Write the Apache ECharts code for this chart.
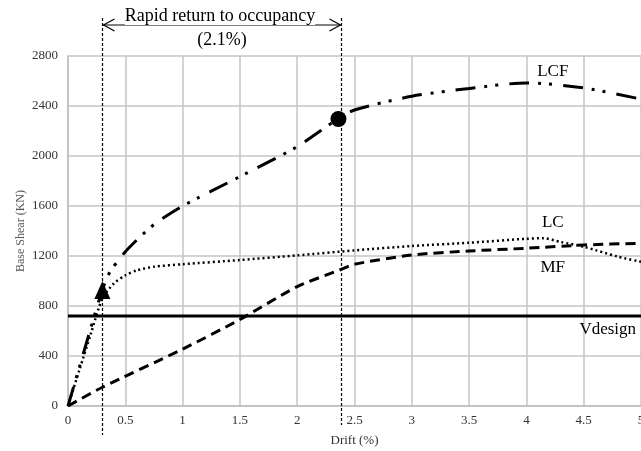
<!DOCTYPE html>
<html>
<head>
<meta charset="utf-8">
<script src="https://cdn.jsdelivr.net/npm/echarts@6/dist/echarts.min.js"></script>
<style>
  html, body { margin: 0; padding: 0; background: #fff; }
  #chart { width: 641px; height: 451px; }
</style>
</head>
<body>
<div id="chart"></div>
<script>
const SERIF = "'Liberation Serif', 'Times New Roman', serif";

// pushover curves: [drift %, base shear kN]
const LCF = [
  [0, 0], [0.15, 470], [0.3, 930], [0.37, 1080], [0.44, 1165], [0.5, 1234],
  [0.63, 1354], [0.77, 1466], [1, 1600], [1.5, 1835], [2, 2075], [2.35, 2294],
  [2.5, 2368], [3, 2478], [3.5, 2540], [4, 2585], [4.5, 2545], [5, 2455]
];
const LC = [
  [0, 0], [0.1, 290], [0.2, 580], [0.3, 860], [0.4, 980], [0.5, 1045],
  [0.6, 1085], [0.75, 1114], [1, 1134], [1.5, 1168], [2, 1205], [2.5, 1245],
  [3, 1280], [3.5, 1306], [4, 1338], [4.15, 1342], [4.3, 1312], [4.5, 1274],
  [4.8, 1194], [5, 1154]
];
const MF = [
  [0, 0], [0.3, 150], [1, 455], [1.5, 692], [2, 955], [2.37, 1088],
  [2.5, 1134], [3, 1208], [3.5, 1240], [4, 1262], [4.5, 1288], [5, 1302]
];
const V_DESIGN = 720;
const X_MAX = 5;
const Y_MAX = 2800;

// performance points
const TRIANGLE_PT = [0.3, 928];
const CIRCLE_PT = [2.36, 2296];

// rapid return to occupancy band
const RRO_FROM = 0.3;
const RRO_TO = 2.38;

// in-plot text labels [x, y, text]
const CURVE_LABELS = [
  [4.23, 2672, 'LCF'],
  [4.23, 1464, 'LC'],
  [4.23, 1104, 'MF'],
  [4.71, 608, 'Vdesign']
];

const chart = echarts.init(document.getElementById('chart'));

chart.setOption({
  animation: false,
  grid: { left: 68, right: 0, top: 56, bottom: 45, outerBoundsMode: 'none', containLabel: false },
  xAxis: {
    type: 'value',
    min: 0,
    max: X_MAX,
    interval: 0.5,
    name: 'Drift (%)',
    nameLocation: 'middle',
    nameGap: 28,
    nameTextStyle: { fontFamily: SERIF, fontSize: 13, color: '#333' },
    axisLine: { show: true, lineStyle: { color: '#bfbfbf', width: 1.5 } },
    axisTick: { show: false },
    axisLabel: { fontFamily: SERIF, fontSize: 13, color: '#333', margin: 8 },
    splitLine: { show: true, lineStyle: { color: '#c4c4c4', width: 1.5 } }
  },
  yAxis: {
    type: 'value',
    min: 0,
    max: Y_MAX,
    interval: 400,
    axisLine: { show: true, lineStyle: { color: '#bfbfbf', width: 1.5 } },
    axisTick: { show: false },
    axisLabel: {
      fontFamily: SERIF, fontSize: 13, color: '#333', margin: 10,
      formatter: v => String(v)
    },
    splitLine: { show: true, lineStyle: { color: '#c4c4c4', width: 1.5 } }
  },
  series: [
    {
      name: 'MF',
      type: 'line',
      data: MF,
      smooth: 0.25,
      showSymbol: false,
      lineStyle: { color: '#000', width: 3, type: [10, 6], cap: 'butt' }
    },
    {
      name: 'LC',
      type: 'line',
      data: LC,
      smooth: 0.25,
      showSymbol: false,
      lineStyle: { color: '#000', width: 2.5, type: [2, 3], cap: 'butt' }
    },
    {
      name: 'LCF',
      type: 'line',
      data: LCF,
      smooth: 0.25,
      showSymbol: false,
      lineStyle: { color: '#000', width: 3, type: [20, 9, 3, 8, 3, 11], cap: 'butt' }
    },
    {
      name: 'Vdesign',
      type: 'line',
      data: [[0, V_DESIGN], [X_MAX, V_DESIGN]],
      showSymbol: false,
      lineStyle: { color: '#000', width: 3 }
    },
    {
      type: 'scatter',
      data: [TRIANGLE_PT],
      symbol: 'triangle',
      symbolSize: [16, 18],
      itemStyle: { color: '#000', opacity: 1 },
      z: 5
    },
    {
      type: 'scatter',
      data: [CIRCLE_PT],
      symbol: 'circle',
      symbolSize: 16,
      itemStyle: { color: '#000', opacity: 1 },
      z: 5
    }
  ]
});

// annotations sit partly outside the grid, so place them from converted pixels
const px = (x, y) => chart.convertToPixel({ gridIndex: 0 }, [x, y]);
const xA = Math.round(px(RRO_FROM, 0)[0]) + 0.5;
const xB = Math.round(px(RRO_TO, 0)[0]) + 0.5;
const arrowY = 25;
const graphic = [];

// y axis title, placed by hand (v6 kept pushing the axis name to the edge)
const yMid = (px(0, 0)[1] + px(0, Y_MAX)[1]) / 2;
graphic.push({
  type: 'text',
  x: 21,
  y: yMid,
  rotation: Math.PI / 2,
  style: {
    text: 'Base Shear (KN)',
    font: '12px ' + SERIF,
    fill: '#595959',
    align: 'center',
    verticalAlign: 'middle'
  }
});

// left guide runs a bit lower than the right one
for (const [x, bottom] of [[xA, 435], [xB, 425]]) {
  graphic.push({
    type: 'line',
    shape: { x1: x, y1: 18, x2: x, y2: bottom },
    style: { stroke: '#000', lineWidth: 1.2, lineDash: [3, 2] },
    z: 10
  });
}

graphic.push({
  type: 'line',
  shape: { x1: xA, y1: arrowY, x2: xB, y2: arrowY },
  style: { stroke: '#000', lineWidth: 1 },
  z: 10
});
graphic.push({
  type: 'polyline',
  shape: { points: [[xA + 12, arrowY - 6], [xA + 1, arrowY], [xA + 12, arrowY + 6]] },
  style: { stroke: '#000', lineWidth: 1.2, fill: null },
  z: 10
});
graphic.push({
  type: 'polyline',
  shape: { points: [[xB - 12, arrowY - 6], [xB - 1, arrowY], [xB - 12, arrowY + 6]] },
  style: { stroke: '#000', lineWidth: 1.2, fill: null },
  z: 10
});

const midX = (xA + xB) / 2;
graphic.push({
  type: 'text',
  x: midX - 2,
  y: 16,
  style: {
    text: 'Rapid return to occupancy',
    font: '18px ' + SERIF,
    fill: '#000',
    align: 'center',
    verticalAlign: 'middle',
    backgroundColor: '#fff'
  },
  z: 11
});
graphic.push({
  type: 'text',
  x: midX,
  y: 40,
  style: {
    text: '(2.1%)',
    font: '18px ' + SERIF,
    fill: '#000',
    align: 'center',
    verticalAlign: 'middle'
  },
  z: 11
});

for (const [x, y, text] of CURVE_LABELS) {
  const p = px(x, y);
  graphic.push({
    type: 'text',
    x: p[0],
    y: p[1],
    style: {
      text,
      font: '17px ' + SERIF,
      fill: '#000',
      align: 'center',
      verticalAlign: 'middle'
    },
    z: 11
  });
}

chart.setOption({ graphic });
</script>
</body>
</html>
